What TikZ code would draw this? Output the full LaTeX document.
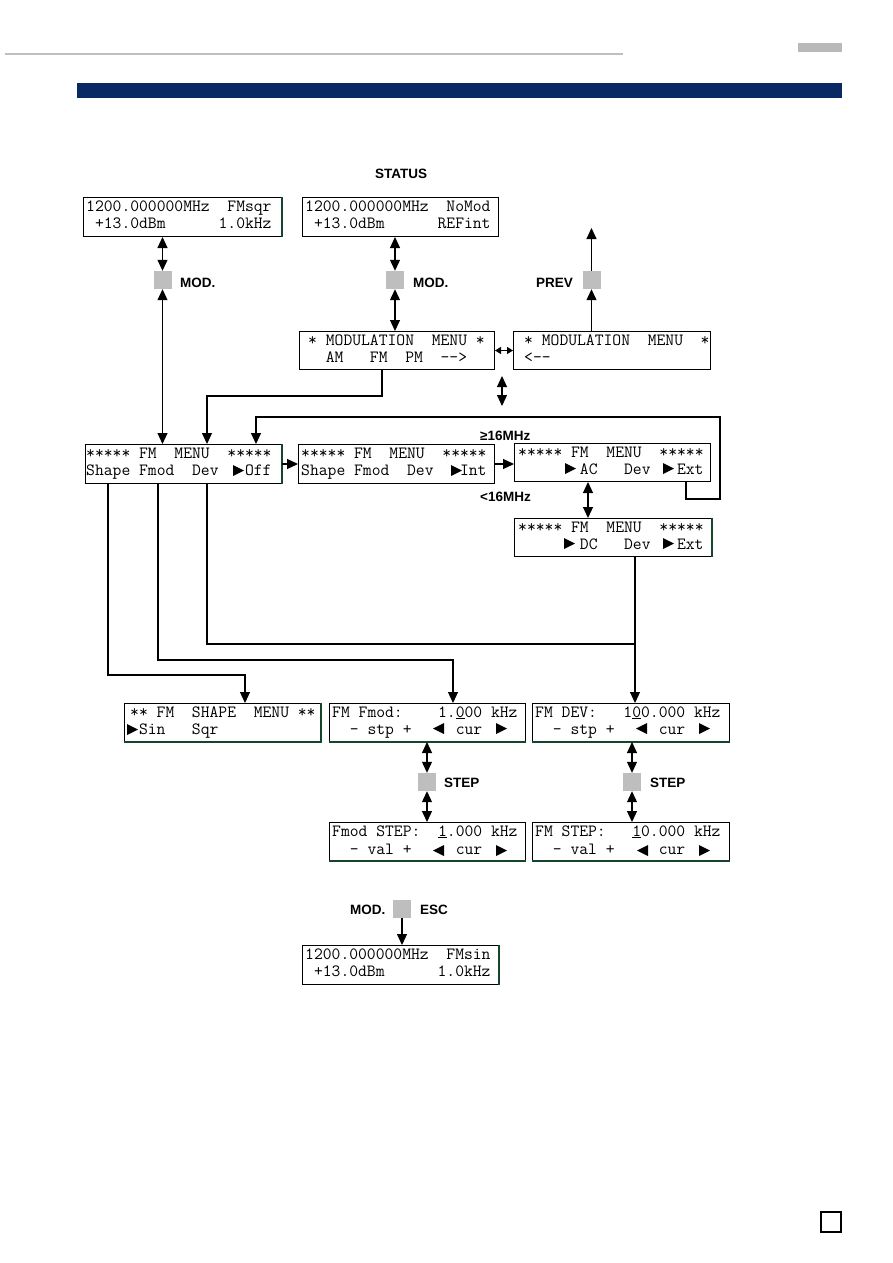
\documentclass[tikz,border=0pt]{standalone}
\usepackage{fontspec}
\setmainfont{Liberation Sans}
\usetikzlibrary{arrows.meta}
\definecolor{navy}{RGB}{10,40,100}
\definecolor{keygray}{RGB}{190,190,190}
\definecolor{edgegreen}{RGB}{20,70,45}
\newcommand\rtri[2]{\fill (#1,#2) -- ++(11,5.5) -- ++(-11,5.5) -- cycle;}
\newcommand\ltri[2]{\fill (#1+11,#2) -- ++(-11,5.5) -- ++(11,5.5) -- cycle;}
\begin{document}
\begin{tikzpicture}[x=1pt,y=-1pt,
  lcdbox/.style={draw=black,line width=1pt,inner sep=0pt,anchor=north west,minimum width=#1},
  lcdbox/.default=197pt,
  lcd/.style={anchor=base west,inner sep=0pt,font=\ttfamily\fontsize{17.14}{17.14}\selectfont},
  lbl/.style={anchor=base west,inner sep=0pt,font=\bfseries\fontsize{13.5}{13.5}\selectfont},
  key/.style={fill=keygray,draw=none,minimum size=18pt,inner sep=0pt},
  ln/.style={line width=1.1pt},
  arr/.style={line width=1.1pt,-{Triangle[length=11pt,width=10pt]}},
  dbl/.style={line width=1.1pt,{Triangle[length=11pt,width=10pt]}-{Triangle[length=11pt,width=10pt]}},
  sdbl/.style={line width=1.1pt,{Triangle[length=6pt,width=7pt]}-{Triangle[length=6pt,width=7pt]}},
  gedge/.style={draw=edgegreen,line width=1.4pt}]
\useasboundingbox (0,0) rectangle (893,1263);
% header
\draw[gray!50,line width=1.5pt] (5,54) -- (623,54);
\fill[gray!55] (798,43) rectangle (842,52);
\fill[navy] (77,83) rectangle (842,98);
\draw[line width=1.2pt] (821,1212) rectangle (841,1232);

% boxes
\node[lcdbox=198pt,minimum height=39pt] (A) at (83,197) {};
\node[lcdbox=196pt,minimum height=39pt] (B) at (302,197) {};
\node[lcdbox=195pt,minimum height=38pt] (C) at (299,331) {};
\node[lcdbox=197pt,minimum height=38pt] (D) at (513,331) {};
\node[lcdbox=196pt,minimum height=39pt] (E) at (85,444) {};
\node[lcdbox=196pt,minimum height=39pt] (F) at (298,444) {};
\node[lcdbox=196pt,minimum height=38pt] (G) at (514,443) {};
\node[lcdbox=197pt,minimum height=38pt] (H) at (514,518) {};
\node[lcdbox=196pt,minimum height=38pt] (I) at (124,703) {};
\node[lcdbox=196pt,minimum height=38pt] (J) at (329,703) {};
\node[lcdbox=197pt,minimum height=38pt] (K) at (532,703) {};
\node[lcdbox=196pt,minimum height=38pt] (L) at (329,822) {};
\node[lcdbox=197pt,minimum height=38pt] (M) at (532,822) {};
\node[lcdbox=196pt,minimum height=39pt] (N) at (302,945) {};

% green edges
\draw[gedge] (A.north east) -- (A.south east);
\draw[gedge] (E.north east) -- (E.south east);
\draw[gedge] (H.north east) -- (H.south east);
\draw[gedge] (I.north east) -- (I.south east) -- (I.south west);
\draw[gedge] (J.south east) -- (J.south west);
\draw[gedge] (K.south east) -- (K.south west);
\draw[gedge] (L.south east) -- (L.south west);
\draw[gedge] (M.south east) -- (M.south west);
\draw[gedge] (N.north east) -- (N.south east);

% texts
\node[lcd] (A1) at (86,211) {1200.000000MHz~~FMsqr};
\node[lcd] (A2) at (86,228) {~+13.0dBm~~~~~~1.0kHz};
\node[lcd] (B1) at (305,211) {1200.000000MHz~~NoMod};
\node[lcd] (B2) at (305,228) {~+13.0dBm~~~~~~REFint};
\node[lcd] (C1) at (308,345) {*~MODULATION~~MENU~*};
\node[lcd] (C2) at (308,362) {~~AM~~~FM~~PM~~-->};
\node[lcd] (D1) at (524,345) {*~MODULATION~~MENU~~*};
\node[lcd] (D2) at (524,362) {<--};
\node[lcd] (E1) at (86,458) {*****~FM~~MENU~~*****};
\node[lcd] (E2) at (86,475.5) {Shape~Fmod~~Dev~~~Off};
\node[lcd] (F1) at (301,458) {*****~FM~~MENU~~*****};
\node[lcd] (F2) at (301,475.5) {Shape~Fmod~~Dev~~~Int};
\node[lcd] (G1) at (518,457) {*****~FM~~MENU~~*****};
\node[lcd] (G2) at (518,474) {~~~~~~~AC~~~Dev~~~Ext};
\node[lcd] (H1) at (518,532) {*****~FM~~MENU~~*****};
\node[lcd] (H2) at (518,549) {~~~~~~~DC~~~Dev~~~Ext};
\node[lcd] (I1) at (130,717) {**~FM~~SHAPE~~MENU~**};
\node[lcd] (I2) at (130,734) {~Sin~~~Sqr};
\node[lcd] (J1) at (332,717) {FM~Fmod:~~~~1.\underline{0}00~kHz};
\node[lcd] (J2) at (332,734) {~~-~stp~+~~~~~cur};
\node[lcd] (K1) at (535,717) {FM~DEV:~~~1\underline{0}0.000~kHz};
\node[lcd] (K2) at (535,734) {~~-~stp~+~~~~~cur};
\node[lcd] (L1) at (332,836) {Fmod~STEP:~~\underline{1}.000~kHz};
\node[lcd] (L2) at (332,854) {~~-~val~+~~~~~cur};
\node[lcd] (M1) at (535,836) {FM~STEP:~~~\underline{1}0.000~kHz};
\node[lcd] (M2) at (535,854) {~~-~val~+~~~~~cur};
\node[lcd] (N1) at (305,959) {1200.000000MHz~~FMsin};
\node[lcd] (N2) at (305,976) {~+13.0dBm~~~~~~1.0kHz};

% triangles in displays
\rtri{233}{465} \rtri{451}{465}
\rtri{565}{463} \rtri{663}{463}
\rtri{564}{538} \rtri{663}{538}
\rtri{127}{724}
\ltri{433}{723} \rtri{496}{723}
\ltri{636}{723} \rtri{699}{723}
\ltri{433}{845} \rtri{496}{845}
\ltri{637}{845} \rtri{699}{845}

% keys
\node[key] (sqA) at (162.5,280) {};
\node[key] (sqB) at (395,280) {};
\node[key] (sqP) at (591.5,280) {};
\node[key] (sqS1) at (427,782) {};
\node[key] (sqS2) at (632,782) {};
\node[key] (sqE) at (402,909) {};

% labels
\node[lbl] (status) at (375,178) {STATUS};
\node[lbl] (modA) at (180,287) {MOD.};
\node[lbl] (modB) at (413,287) {MOD.};
\node[lbl] (prev) at (536,287) {PREV};
\node[lbl] (ge16) at (480,440) {≥16MHz};
\node[lbl] (lt16) at (480,501.5) {<16MHz};
\node[lbl] (step1) at (444,787) {STEP};
\node[lbl] (step2) at (650,787) {STEP};
\node[lbl] (modE) at (350,914) {MOD.};
\node[lbl] (esc) at (420,914) {ESC};

% connectors
\draw[dbl] (sqA.north |- A.south) -- (sqA.north);
\draw[dbl] (sqA.south) -- (sqA.south |- E.north);
\draw[dbl] (sqB.north |- B.south) -- (sqB.north);
\draw[dbl] (sqB.south) -- (sqB.south |- C.north);
\draw[arr] (sqP.south |- D.north) -- (sqP.south);
\coordinate (p1) at (591.5,228);
\draw[arr] (sqP.north) -- (p1);
\draw[sdbl] (C.east) -- (D.west);
\coordinate (s1) at (502,376);
\coordinate (s2) at (502,406);
\draw[dbl] (s1) -- (s2);
\coordinate (c1) at (382,396);
\coordinate (c2) at (207,396);
\draw[arr] (c1 |- C.south) -- (c1) -- (c2) -- (c2 |- E.north);
\coordinate (g1) at (686,499);
\coordinate (g2) at (720,499);
\coordinate (g3) at (720,417);
\coordinate (g4) at (256,417);
\draw[arr] (g1 |- G.south) -- (g1) -- (g2) -- (g3) -- (g4) -- (g4 |- E.north);
\draw[arr] (E.east) -- (F.west);
\draw[arr] (F.east) -- (F.east -| G.west);
\coordinate (gh) at (588,500);
\draw[dbl] (gh |- G.south) -- (gh |- H.north);
\coordinate (x1) at (108,675);
\coordinate (x2) at (245,675);
\draw[arr] (x1 |- E.south) -- (x1) -- (x2) -- (x2 |- I.north);
\coordinate (y1) at (158,660);
\coordinate (y2) at (453,660);
\draw[arr] (y1 |- E.south) -- (y1) -- (y2) -- (y2 |- J.north);
\coordinate (z1) at (207,644);
\coordinate (z2) at (635,644);
\draw[ln] (z1 |- E.south) -- (z1) -- (z2);
\draw[arr] (z2 |- H.south) -- (z2 |- K.north);
\draw[dbl] (sqS1.north |- J.south) -- (sqS1.north);
\draw[dbl] (sqS1.south) -- (sqS1.south |- L.north);
\draw[dbl] (sqS2.north |- K.south) -- (sqS2.north);
\draw[dbl] (sqS2.south) -- (sqS2.south |- M.north);
\draw[arr] (sqE.south) -- (sqE.south |- N.north);
\end{tikzpicture}
\end{document}
